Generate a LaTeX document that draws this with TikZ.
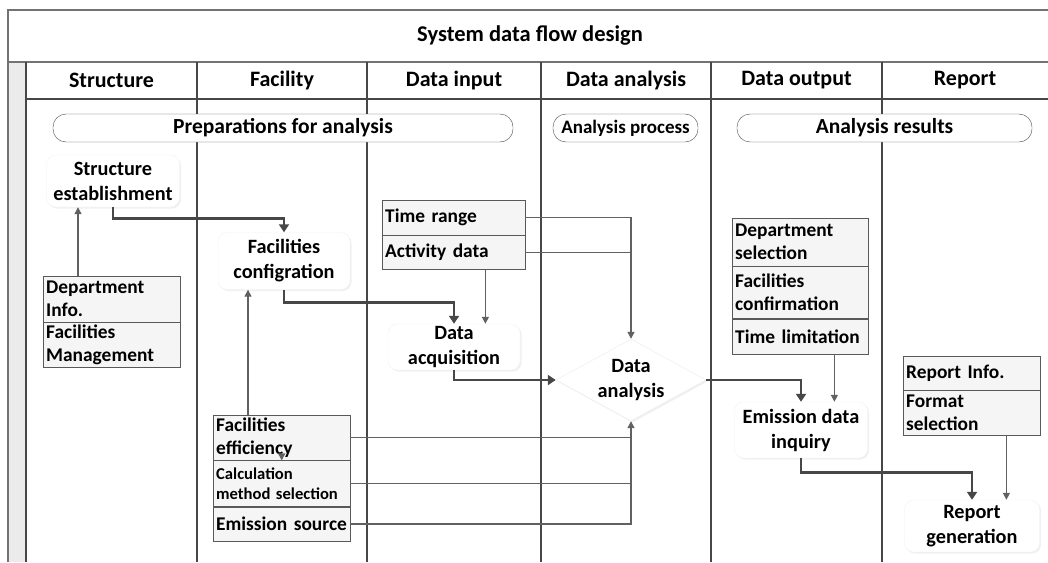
\documentclass[tikz,border=0pt]{standalone}
\usepackage{fontspec}
\setmainfont{Carlito}
\usetikzlibrary{arrows.meta}
\usetikzlibrary{positioning}
\usetikzlibrary{shapes.geometric}
\usetikzlibrary{shadows}

\begin{document}
\begin{tikzpicture}[
        x=1pt, y=-1pt,
        frame/.style={draw=black!55, line width=1.2pt},
        laneline/.style={draw=black!72, line width=1.1pt},
        lanehead/.style={inner sep=0pt, font=\fontsize{22}{25}\selectfont\bfseries},
        phase/.style={draw=black!72, fill=white, rounded corners=13pt, minimum height=28pt, inner sep=0pt, font=\fontsize{21.5}{24}\selectfont\bfseries},
        proc/.style={fill=white, draw=black!5, rounded corners=9pt, align=center, inner sep=0pt, font=\fontsize{20.3}{25}\selectfont\bfseries, drop shadow={opacity=0.12, shadow xshift=1.5pt, shadow yshift=-1.5pt}},
        cell/.style={draw=black!65, fill=black!4, align=left, text width=131pt, inner xsep=3pt, inner ysep=0pt, font=\fontsize{19.4}{23}\selectfont\bfseries},
        heavy/.style={-{Triangle[width=10pt,length=8pt]}, line width=2.6pt, black!72},
        light/.style={-{Triangle[width=7pt,length=7pt]}, line width=1.3pt, black!62},
        joint/.style={line width=1.3pt, black!62},
    ]
    \useasboundingbox (0,0) rectangle (1048,562);

    % pool and lanes
    \fill[black!8] (8,62) rectangle (26,562);
    \draw[frame] (8,562) -- (8,10) -- (1048,10);
    \draw[frame] (8,62) -- (1048,62);
    \draw[laneline] (26,99) -- (1048,99);
    \node[lanehead, font=\fontsize{22.5}{25}\selectfont\bfseries] (title) at (530,36) {System data flow design};
    \foreach \xl/\xr/\lbl [count=\i] in {26/197/Structure, 197/367/Facility, 367/541/Data input,
                                         541/711/Data analysis, 711/882/Data output, 882/1048/Report} {
        \draw[laneline] (\xl,62) -- (\xl,562);
        \node[lanehead] (lane\i) at ({(\xl+\xr)/2},80.5) {\lbl};
    }

    % phases
    \node[phase, minimum width=460pt] (prep) at (283,128) {Preparations for analysis};
    \node[phase, minimum width=145pt, font=\fontsize{19}{22}\selectfont\bfseries] (proc) at (625.5,128) {Analysis process};
    \node[phase, minimum width=295pt] (res) at (884.5,128) {Analysis results};

    % process steps
    \node[proc, minimum width=133pt, minimum height=52pt] (est) at (113,181) {Structure\\establishment};
    \node[proc, minimum width=132pt, minimum height=57pt] (conf) at (284,261) {Facilities\\configration};
    \node[proc, minimum width=132pt, minimum height=46pt] (acq) at (454,347) {Data\\acquisition};
    \node[proc, diamond, rounded corners=0pt, draw=black!8, minimum width=150pt, minimum height=82pt, aspect=1.83] (ana) at (631,380) {Data\\analysis};
    \node[proc, minimum width=133pt, minimum height=56pt] (inq) at (801,430) {Emission data\\inquiry};
    \node[proc, minimum width=135pt, minimum height=52pt] (rep) at (972,526) {Report\\generation};

    % data sheets
    \node[cell, anchor=north west, minimum height=46pt] (deptinfo) at (43,276) {Department\\Info.};
    \node[cell, below=0pt of deptinfo, minimum height=45pt] (facmgmt) {Facilities\\Management};

    \node[cell, anchor=north west, text width=137pt, minimum height=35pt] (timerange) at (382,200) {Time range};
    \node[cell, below=0pt of timerange, text width=137pt, minimum height=34pt] (activity) {Activity data};

    \node[cell, anchor=north west, text width=130pt, minimum height=48pt] (deptsel) at (732,218) {Department\\selection};
    \node[cell, below=0pt of deptsel, text width=130pt, minimum height=52pt] (facconf) {Facilities\\confirmation};
    \node[cell, below=0pt of facconf, text width=130pt, minimum height=35pt] (timelim) {Time limitation};

    \node[cell, anchor=north west, minimum height=34pt] (repinfo) at (903,356) {Report Info.};
    \node[cell, below=0pt of repinfo, minimum height=45pt] (format) {Format\\selection};

    \node[cell, anchor=north west, minimum height=45pt] (effic) at (213,415) {Facilities\\efficiency};
    \node[cell, below=0pt of effic, minimum height=46pt, font=\fontsize{16.6}{20}\selectfont\bfseries] (calc) {Calculation\\method selection};
    \node[cell, below=0pt of calc, minimum height=34pt] (emis) {Emission source};

    % main flow
    \draw[heavy] (est.south) -- ++(0,11) -| (conf.north);
    \draw[heavy] (conf.south) -- ++(0,13) -| (acq.north);
    \draw[heavy] (acq.south) |- (ana.west);
    \draw[heavy] (ana.east) -| (inq.north);
    \draw[heavy] (inq.south) -- ++(0,14) -| (rep.north);

    % inputs
    \draw[light] ([xshift=35pt]deptinfo.north west) -- ([xshift=35pt]deptinfo.north west |- est.south);
    \draw[light] ([xshift=35pt]effic.north west) -- ([xshift=35pt]effic.north west |- conf.south);
    \draw[light] ([yshift=5pt]effic.south) -- (effic.south);
    \draw[light] ([xshift=-40pt]activity.south east) -- ([xshift=-40pt]activity.south east |- acq.north);
    \draw[light] (timerange.east) -| (ana.north);
    \draw[joint] (activity.east) -- (activity.east -| ana.north);
    \draw[light] (emis.east) -| (ana.south);
    \draw[joint] (effic.east) -- (effic.east -| ana.south);
    \draw[joint] (calc.east) -- (calc.east -| ana.south);
    \draw[light] ([xshift=-34pt]timelim.south east) -- ([xshift=-34pt]timelim.south east |- inq.north);
    \draw[light] ([xshift=-34pt]format.south east) -- ([xshift=-34pt]format.south east |- rep.north);
\end{tikzpicture}
\end{document}
